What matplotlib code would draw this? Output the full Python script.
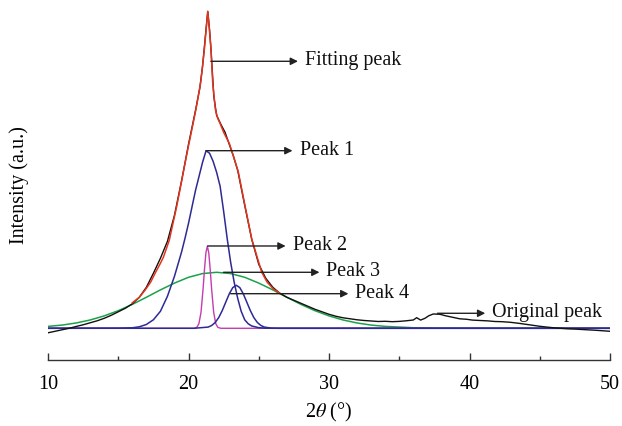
import numpy as np
import matplotlib
matplotlib.use('Agg')
import matplotlib.pyplot as plt
from matplotlib.ticker import MultipleLocator

plt.rcParams['font.family'] = ['Liberation Serif', 'DejaVu Serif']
plt.rcParams['mathtext.fontset'] = 'stix'

# original diffraction pattern
orig_x = [10, 10.5, 11, 11.5, 12, 12.5, 13, 13.5, 14, 14.5, 15, 15.5, 16, 16.5, 17, 17.5,
          18, 18.5, 19, 19.5, 20, 20.5, 20.8, 21.0, 21.2, 21.37, 21.5, 21.6, 21.8, 22.0,
          22.3, 22.6, 22.9, 23.2, 23.5, 24.0, 24.5, 25.0, 25.5, 26.0, 26.5, 27.0, 27.5,
          28.0, 28.5, 29.0, 29.5, 30, 30.5, 31, 31.5, 32, 32.5, 33, 33.5, 34, 34.5, 35,
          35.5, 36.0, 36.24, 36.52, 36.83, 37.1, 37.42, 37.9, 38.3, 38.8, 39.3, 39.8,
          40.2, 40.75, 41.3, 41.8, 42.3, 42.9, 43.5, 44, 44.5, 45, 45.5, 46, 46.5, 47,
          47.5, 48, 48.5, 49, 49.5, 50]
orig_y = [-4.5, -3, -1.5, 0, 1.8, 3.5, 5.5, 7.5, 10, 13, 16.5, 20, 24.5, 31, 41, 55,
          70, 87, 113, 147, 184, 218, 240, 262, 292, 317, 298, 279, 232, 213,
          204, 196, 184, 172, 158, 123, 89, 64, 50, 41, 35, 31, 28,
          25, 22, 19, 16.5, 14, 12, 10.5, 9.5, 8.5, 7.8, 7.3, 6.8, 7.0, 6.6, 6.9,
          7.5, 8.3, 10.6, 8.2, 10, 12.5, 14.3, 14, 12.5, 11, 9.5, 9.0,
          8.2, 7.8, 7.4, 6.8, 6.6, 6.0, 5.0, 4.0, 3.0, 2.0, 1.2, 0.5, 0, -0.5,
          -0.8, -1.2, -1.6, -2.0, -2.5, -3.0]

# fitted envelope
fit_x = [16.0, 16.5, 16.9, 17.3, 17.62, 18.0, 18.21, 18.63, 19.16, 19.63, 19.99, 20.11,
         20.53, 20.87, 21.13, 21.25, 21.37, 21.48, 21.6, 21.72, 21.91, 22.08, 22.24, 22.5,
         22.9, 23.2, 23.55, 24.02, 24.5, 25.21, 25.6, 26.04, 26.5]
fit_y = [25.5, 31, 38, 46, 55, 65, 71, 88, 122, 156, 182, 190,
         219, 246, 279, 298, 316.6, 300, 279, 246, 219, 210, 205, 196,
         185, 172, 156, 122.6, 89.3, 56, 46, 39.3, 35]

# component peaks
p1_x = [10, 15, 16.0, 16.5, 17.0, 17.5, 18.0, 18.5, 19.0, 19.5, 19.75, 20.0, 20.5, 20.75,
        21.0, 21.25, 21.5, 21.75, 22.0, 22.25, 22.5, 22.75, 23.0, 23.25, 23.5, 23.75,
        24.0, 24.25, 24.5, 25.0, 25.5, 26.0, 50]
p1_y = [0, 0.1, 0.5, 1.5, 3.8, 8.5, 17, 32, 52, 76, 90, 105, 138, 152,
        166, 177.6, 175, 167, 156, 142, 117, 90, 66, 46, 30, 17,
        8.5, 4.5, 2.3, 0.6, 0.1, 0, 0]

p2_x = [10, 20.4, 20.59, 20.74, 20.89, 21.04, 21.14, 21.24, 21.34, 21.44, 21.54, 21.64,
        21.79, 21.94, 22.09, 22.3, 50]
p2_y = [0, 0, 0.9, 4.6, 16, 40, 59.5, 75.7, 82, 75.7, 59.5, 40,
        16, 4.6, 0.9, 0, 0]

p3_x = [10, 11, 12, 13, 14, 15, 16, 17, 18, 19, 20, 21, 22, 23, 24, 25, 26, 27, 28,
        29, 30, 31, 32, 33, 34, 36, 38, 40, 50]
p3_y = [1.9, 3.2, 5.3, 8.3, 12.4, 17.6, 23.9, 31, 38.4, 45.2, 51, 54.7, 56, 54.7, 51,
        45.2, 38.4, 31, 23.9, 17.6, 12.4, 8.3, 5.3, 3.2, 1.9, 0.55, 0.13, 0.03, 0]

p4_x = [10, 20.4, 21.4, 21.65, 21.9, 22.15, 22.4, 22.65, 22.9, 23.15, 23.4, 23.65, 23.9,
        24.15, 24.4, 24.65, 24.9, 25.15, 25.4, 25.9, 26.4, 50]
p4_y = [0, 0, 1.2, 2.8, 5.8, 10.7, 17.7, 26.1, 34.4, 40.7, 43, 40.7, 34.4,
        26.1, 17.7, 10.7, 5.8, 2.8, 1.2, 0.17, 0, 0]

labels = ['Fitting peak', 'Peak 1', 'Peak 2', 'Peak 3', 'Peak 4', 'Original peak']

fig = plt.figure(figsize=(6.22, 4.27), dpi=100)
ax = fig.add_axes([0.0772, 0.1546, 0.9035, 0.8337])

navy = '#2e2a94'
ax.plot(p3_x, p3_y, color='#19a24a', lw=1.1)
ax.plot(p2_x, p2_y, color='#c43cb0', lw=1.0)
ax.plot(p1_x, p1_y, color=navy, lw=1.1)
ax.plot(p4_x, p4_y, color=navy, lw=1.1)
ax.plot(orig_x, orig_y, color='#111111', lw=1.0)
ax.plot(fit_x, fit_y, color='#e8331c', lw=1.1)

# labels with arrows: (line start x, line y, arrow tip x)
arrows = [(21.59, 267, 27.79), (21.25, 177.6, 27.4), (21.36, 82.3, 26.91),
          (22.49, 56, 29.32), (23.0, 34.6, 31.38), (37.72, 15, 41.12)]
for (x0, y0, x1), lab in zip(arrows, labels):
    ax.annotate('', xy=(x1, y0), xytext=(x0, y0),
                arrowprops=dict(arrowstyle='-|>', color='#222222', lw=1.0,
                                mutation_scale=11, shrinkA=0, shrinkB=0))
    ax.text(x1 + 0.5, y0 + 1.5, lab, fontsize=14.5, ha='left', va='center', color='#111111')

ax.set_xlim(10, 50)
ax.set_ylim(-31.7, 324.3)
for s in ['top', 'right', 'left']:
    ax.spines[s].set_visible(False)
ax.spines['bottom'].set_linewidth(1.0)
ax.spines['bottom'].set_color('#333333')
ax.set_yticks([])
ax.xaxis.set_major_locator(MultipleLocator(10))
ax.xaxis.set_minor_locator(MultipleLocator(5))
ax.tick_params(axis='x', which='major', direction='in', length=5, width=1.0,
               color='#333333', labelsize=14.5, pad=10)
ax.tick_params(axis='x', which='minor', direction='in', length=3, width=1.0, color='#333333')

ax.set_xlabel(r'2$\theta$ (°)', fontsize=14.5, labelpad=5)
ax.set_ylabel('Intensity (a.u.)', fontsize=14.5)
ax.yaxis.set_label_coords(-0.034, 0.494)

fig.savefig('out.png', dpi=100)
